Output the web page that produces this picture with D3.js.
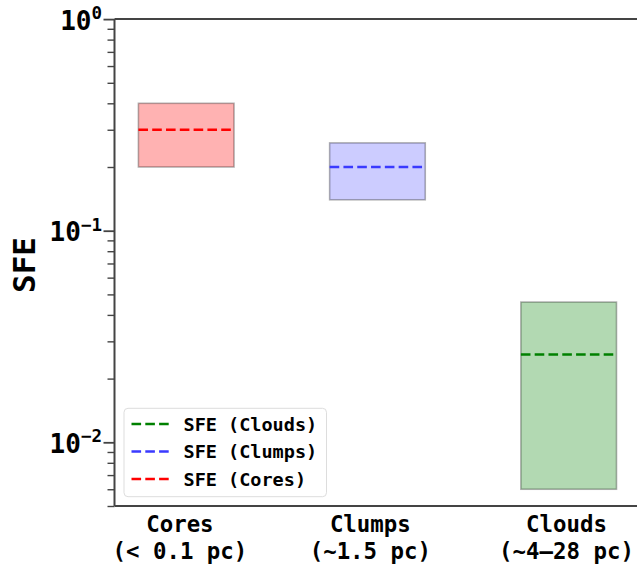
<!DOCTYPE html>
<html>
<head>
<meta charset="utf-8">
<script src="https://cdn.jsdelivr.net/npm/d3@7"></script>
<style>
  html, body { margin: 0; padding: 0; background: #fff; }
  svg { display: block; font-family: "DejaVu Sans Mono", monospace; font-weight: bold; }
</style>
</head>
<body>
<svg id="chart" width="637" height="566"></svg>
<script>
// Star formation efficiency ranges per structure scale
const categories = ["Cores", "Clumps", "Clouds"];
const categorySub = ["(< 0.1 pc)", "(~1.5 pc)", "(~4\u201328 pc)"];
const sfeLow  = [0.2, 0.14, 0.006];
const sfeHigh = [0.4, 0.26, 0.046];
const sfeTypical = [0.3, 0.2, 0.026];
const legendLabels = ["SFE (Cores)", "SFE (Clumps)", "SFE (Clouds)"];
const fillColors = ["rgba(255,0,0,0.3)", "rgba(0,0,255,0.2)", "rgba(0,128,0,0.3)"];
const lineColors = ["#ff0000", "#3a3aff", "#008000"];
const yMajorTicks = [0.01, 0.1, 1];
const yMajorExp = ["\u22122", "\u22121", "0"];

const svg = d3.select("#chart");
const plotL = 114.5, plotR = 640.4, plotT = 19.1, plotB = 506;

const x = d3.scaleLinear().domain([-0.375, 2.375]).range([plotL, plotR]);
const y = d3.scaleLog().domain([0.005, 1]).range([plotB, plotT]);
const boxW = 0.5;
const labelShift = [-6.3, -7.1, -2.2];

// minor ticks at 2..9 x each decade
const minorTicks = [];
[0.001, 0.01, 0.1].forEach(d => { for (let k = 2; k <= 9; k++) { const v = d * k; if (v >= 0.005 && v < 1) minorTicks.push(v); } });

// range boxes
const g = svg.append("g");
g.selectAll("rect.range").data(categories).join("rect")
  .attr("class", "range")
  .attr("x", (d, i) => x(i - boxW / 2))
  .attr("width", (d, i) => x(i + boxW / 2) - x(i - boxW / 2))
  .attr("y", (d, i) => y(sfeHigh[i]))
  .attr("height", (d, i) => y(sfeLow[i]) - y(sfeHigh[i]))
  .attr("fill", (d, i) => fillColors[i])
  .attr("stroke", "rgba(0,0,0,0.3)")
  .attr("stroke-width", 1.6);

// typical values
g.selectAll("line.typ").data(categories).join("line")
  .attr("class", "typ")
  .attr("x1", (d, i) => x(i - boxW / 2))
  .attr("x2", (d, i) => x(i + boxW / 2))
  .attr("y1", (d, i) => y(sfeTypical[i]))
  .attr("y2", (d, i) => y(sfeTypical[i]))
  .attr("stroke", (d, i) => lineColors[i])
  .attr("stroke-width", 2.6)
  .attr("stroke-dasharray", "9.6,4.2");

// spines
[[plotL, plotT, plotR, plotT], [plotL, plotB, plotR, plotB], [plotL, plotT, plotL, plotB], [plotR, plotT, plotR, plotB]]
  .forEach(([x1, y1, x2, y2]) => {
    svg.append("line").attr("x1", x1).attr("y1", y1).attr("x2", x2).attr("y2", y2)
      .attr("stroke", "#444").attr("stroke-width", 2);
  });

// y axis: minor ticks
svg.append("g").attr("transform", `translate(${plotL},0)`)
  .call(d3.axisLeft(y).tickValues(minorTicks).tickSize(7).tickFormat(""))
  .call(a => a.select(".domain").remove())
  .call(a => a.selectAll(".tick line").attr("stroke", "#444").attr("stroke-width", 1.4));

// y axis: major ticks with power-of-ten labels
const yAx = svg.append("g").attr("transform", `translate(${plotL},0)`)
  .call(d3.axisLeft(y).tickValues(yMajorTicks).tickSize(11).tickFormat(""))
  .call(a => a.select(".domain").remove())
  .call(a => a.selectAll(".tick line").attr("stroke", "#444").attr("stroke-width", 1.8));
yAx.selectAll(".tick").each(function(d, i) {
  const t = d3.select(this).append("text")
    .attr("x", -12.5).attr("y", 10)
    .attr("text-anchor", "end")
    .attr("fill", "#000")
    .style("font-family", "'DejaVu Sans Mono', monospace")
    .style("font-weight", "bold");
  t.append("tspan").attr("font-size", 26).text("10");
  t.append("tspan").attr("font-size", 17.5).attr("dy", -10.7).text(yMajorExp[i]);
});

// x tick labels (two lines)
const xl = svg.append("g");
categories.forEach((c, i) => {
  const t = xl.append("text").attr("text-anchor", "middle").attr("font-size", 22.4).attr("fill", "#000");
  t.append("tspan").attr("x", x(i) + labelShift[i]).attr("y", 531.7).text(c);
  t.append("tspan").attr("x", x(i) + labelShift[i]).attr("y", 558.5).text(categorySub[i]);
});

// y axis title
svg.append("text")
  .attr("transform", `translate(34.5,265) rotate(-90)`)
  .attr("text-anchor", "middle")
  .attr("font-size", 31)
  .attr("fill", "#000")
  .text("SFE");

// legend (clouds listed first)
const legOrder = [2, 1, 0];
const leg = svg.append("g");
leg.append("rect")
  .attr("x", 124).attr("y", 408.3).attr("width", 202.5).attr("height", 88.4)
  .attr("rx", 4)
  .attr("fill", "rgba(255,255,255,0.8)")
  .attr("stroke", "#ddd").attr("stroke-width", 1);
legOrder.forEach((k, j) => {
  const cy = 424 + j * 27.5;
  leg.append("line").attr("x1", 131.5).attr("x2", 170).attr("y1", cy).attr("y2", cy)
    .attr("stroke", lineColors[k]).attr("stroke-width", 2.6).attr("stroke-dasharray", "9.6,4.2");
  leg.append("text").attr("x", 183.5).attr("y", cy + 6.5).attr("font-size", 18.5).attr("fill", "#000")
    .text(legendLabels[k]);
});
</script>
</body>
</html>
